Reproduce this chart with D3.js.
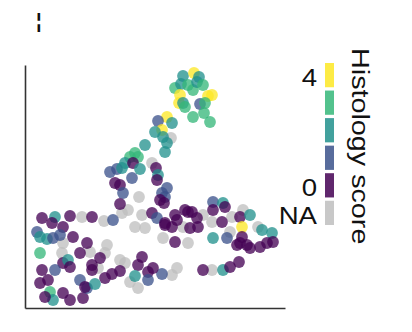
<!DOCTYPE html>
<html>
<head>
<meta charset="utf-8">
<script src="https://cdnjs.cloudflare.com/ajax/libs/d3/7.8.5/d3.min.js"></script>
<style>
  body { margin: 0; background: #fff; }
  svg { display: block; font-family: "Liberation Sans", Arial, sans-serif; }
</style>
</head>
<body>
<div class="container"></div>
<script>
// ----- DATA (embedding coordinates + histology score, "NA" = missing) -----
const umap1 = [
  15.8, 16.9, 17.4, 15.0, 15.6, 16.3, 16.8, 17.2, 17.8, 15.5, 15.4, 15.8, 16.0, 18.3, 18.7, 17.5, 18.0, 17.9, 16.8, 18.5,
  14.2, 13.3, 14.7, 13.7, 13.0, 13.8, 14.6, 14.2, 14.0, 12.0, 10.5, 11.0, 11.3, 10.0, 10.8, 11.5, 8.5, 9.2, 9.7, 12.7,
  13.1, 13.3, 13.2, 10.7, 9.0, 9.5, 9.8, 11.4, 13.7, 14.2, 14.0, 13.5, 13.9, 9.5, 10.3, 9.7, 11.7, 12.7, 13.2, 14.0,
  14.7, 15.0, 15.2, 16.0, 16.3, 15.8, 16.5, 8.8, 7.9, 11.0, 12.0, 13.8, 15.0, 16.3, 8.2, 11.7, 11.3, 9.5, 10.0, 12.3,
  13.7, 15.2, 14.7, 11.0, 9.5, 8.7, 8.0, 12.3, 10.5, 11.3, 1.7, 3.0, 2.7, 3.8, 4.5, 5.7, 6.7, 1.2, 1.5, 2.2,
  2.8, 3.5, 4.8, 6.2, 3.8, 1.5, 3.7, 5.5, 6.5, 7.5, 8.0, 3.8, 4.3, 4.5, 6.7, 3.0, 6.7, 1.7, 2.3, 2.5,
  2.8, 3.8, 4.5, 5.8, 6.2, 5.5, 6.0, 7.0, 1.5, 2.0, 7.3, 18.8, 19.8, 20.0, 18.8, 16.7, 17.8, 17.2, 17.3, 18.7,
  19.7, 20.7, 21.8, 21.5, 22.5, 21.7, 18.8, 20.2, 20.5, 21.7, 21.5, 22.2, 22.5, 21.2, 23.3, 23.7, 24.7, 24.2, 24.8, 23.5,
  17.8, 18.7, 19.8, 20.5, 21.4, 14.0, 12.8
];
const umap2 = [
  23.2, 23.5, 23.1, 22.0, 22.4, 22.3, 21.8, 22.6, 22.3, 21.3, 20.5, 20.5, 20.1, 21.2, 21.3, 20.4, 20.5, 19.5, 19.1, 18.6,
  19.1, 18.7, 18.5, 17.8, 17.6, 17.1, 17.0, 16.5, 15.6, 16.3, 15.1, 15.5, 15.1, 14.5, 14.5, 13.9, 13.6, 13.9, 14.0, 14.5,
  14.0, 13.3, 12.8, 13.0, 12.5, 12.3, 11.5, 11.1, 11.5, 12.0, 11.1, 10.8, 10.5, 10.4, 9.8, 9.5, 9.3, 9.5, 9.0, 8.3,
  8.1, 9.3, 8.8, 9.8, 9.6, 8.1, 8.0, 8.8, 8.7, 8.1, 8.0, 7.0, 6.6, 6.5, 6.3, 5.1, 4.3, 4.8, 4.5, 3.6,
  3.4, 4.0, 3.3, 3.2, 3.7, 3.4, 3.0, 2.8, 2.6, 2.0, 9.0, 9.1, 8.5, 8.1, 9.2, 9.1, 9.1, 7.6, 7.1, 6.9,
  7.0, 7.3, 7.1, 6.5, 6.5, 5.5, 5.5, 5.5, 5.6, 5.0, 5.5, 4.5, 4.8, 4.1, 4.3, 3.8, 3.8, 3.8, 2.8, 1.6,
  0.8, 1.5, 0.8, 1.0, 2.0, 2.8, 2.1, 2.4, 2.5, 1.1, 4.0, 10.6, 10.5, 10.1, 9.8, 9.6, 9.3, 9.0, 8.1, 8.6,
  8.6, 9.1, 9.8, 9.1, 9.3, 8.1, 7.0, 7.0, 7.6, 7.1, 6.5, 6.3, 6.0, 6.3, 8.1, 7.8, 7.5, 6.5, 6.6, 6.1,
  3.8, 3.8, 3.8, 4.1, 4.6, 8.5, 4.0
];
const score = [
  "2", "4", "2", "3", "2", "3", "3", "2", "3", "4", "4", "2", "3", "4", "4", "1", "3", "3", "3", "3",
  "4", "1", "2", "4", "2", "2", "NA", "2", "2", "2", "3", "3", "3", "2", "0", "2", "1", "1", "2", "NA",
  "0", "2", "0", "1", "0", "0", "1", "NA", "1", "1", "1", "0", "0", "0", "NA", "NA", "NA", "0", "1", "0",
  "0", "0", "0", "0", "0", "NA", "0", "1", "NA", "NA", "NA", "NA", "0", "NA", "NA", "0", "0", "NA", "NA", "0",
  "1", "NA", "NA", "2", "0", "0", "0", "1", "NA", "NA", "0", "2", "0", "0", "0", "NA", "0", "1", "2", "2",
  "1", "1", "0", "0", "NA", "3", "NA", "0", "NA", "0", "NA", "0", "2", "0", "0", "1", "0", "0", "0", "3",
  "2", "0", "0", "0", "1", "1", "0", "2", "0", "0", "NA", "1", "2", "0", "0", "0", "NA", "0", "0", "NA",
  "0", "NA", "NA", "0", "2", "4", "2", "1", "NA", "0", "0", "0", "0", "0", "NA", "2", "2", "0", "0", "0",
  "0", "NA", "2", "0", "0", "0", "0"
];

const levels = ["4", "3", "2", "1", "0", "NA"];
const legendLabels = ["4", "", "", "", "0", "NA"];
const palette = ["#fde725", "#35b779", "#21908c", "#3b528b", "#440154", "#bebebe"];

const w = 412;
const h = 332;

const points = umap1.map((d, i) => ({ x: d, y: umap2[i], s: score[i] }));
// NA dots underneath the scored ones
points.sort((a, b) => (a.s === "NA" ? 0 : 1) - (b.s === "NA" ? 0 : 1));

// ----- SCALES -----
const xScale = d3.scaleLinear().
domain([0, 26]).
range([25, 285]);

const yScale = d3.scaleLinear().
domain([0, 24.3]).
range([308, 65]);

const color = d3.scaleOrdinal().
domain(levels).
range(palette);

const legendY = d3.scaleBand().
domain(levels).
range([63, 225]).
paddingInner(0.12);

// ----- SVG -----
const svg = d3.select(".container").
append("svg").
attr("width", w).
attr("height", h);

// stray panel glyph at top left
svg.append("text").
attr("x", 36).
attr("y", 28).
attr("font-size", 20).
attr("font-weight", "bold").
attr("fill", "#111").
text("¦");

// ----- POINTS -----
svg.append("g").
selectAll("circle").
data(points).
enter().
append("circle").
attr("cx", d => xScale(d.x)).
attr("cy", d => yScale(d.y)).
attr("r", 5.9).
attr("fill", d => color(d.s)).
attr("fill-opacity", 0.76);

// ----- AXES (lines only) -----
const xAxis = d3.axisBottom(xScale).tickValues([]).tickSizeOuter(0);
const yAxis = d3.axisLeft(yScale).tickValues([]).tickSizeOuter(0);

svg.append("g").
attr("transform", "translate(0," + yScale(0) + ")").
call(xAxis);

svg.append("g").
attr("transform", "translate(" + xScale(0) + ",0)").
call(yAxis);

svg.selectAll(".domain").
attr("stroke", "#333").
attr("stroke-width", 1.6);

// ----- LEGEND -----
const legend = svg.append("g");

legend.selectAll("rect").
data(levels).
enter().
append("rect").
attr("x", 325).
attr("y", d => legendY(d)).
attr("width", 9).
attr("height", legendY.bandwidth()).
attr("fill", d => color(d)).
attr("fill-opacity", 0.85);

legend.selectAll("text.lab").
data(levels).
enter().
append("text").
attr("class", "lab").
attr("text-anchor", "end").
attr("font-size", 24).
attr("fill", "#111").
attr("transform", d => "translate(317," + (legendY(d) + legendY.bandwidth() - 1) + ") scale(1.15,1)").
text((d, i) => legendLabels[i]);

legend.append("text").
attr("font-size", 23).
attr("fill", "#111").
attr("transform", "translate(351.5,48) rotate(90) scale(1.25,1)").
text("Histology score");
</script>
</body>
</html>
